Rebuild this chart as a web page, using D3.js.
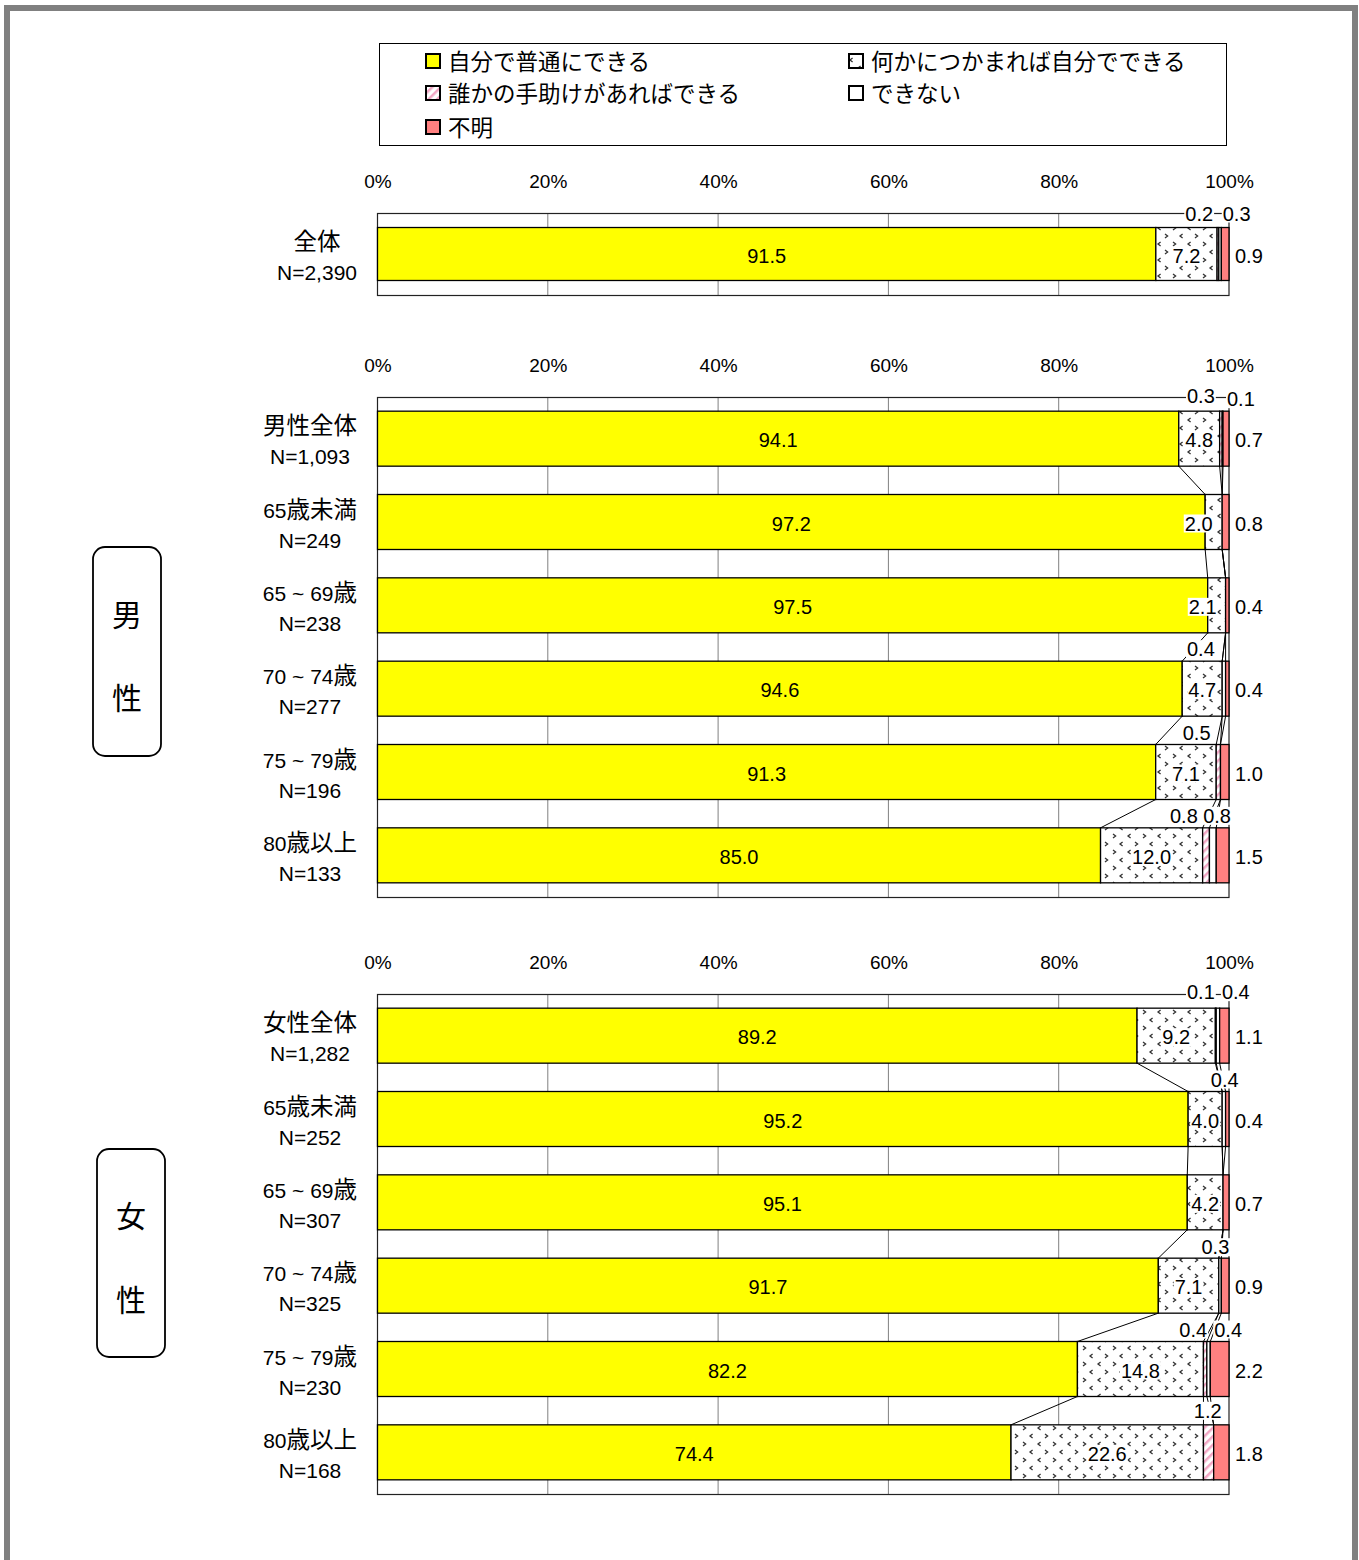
<!DOCTYPE html>
<html><head><meta charset="utf-8">
<script src="https://cdn.jsdelivr.net/npm/d3@7"></script>
<style>
body{margin:0;background:#fff}
text{font-family:'Liberation Sans',Arial,'Noto Sans CJK JP',sans-serif;fill:#000}
</style>
</head><body><svg id="c" width="1359" height="1560"></svg>
<script>
// ---------- data ----------
const seriesNames = ["自分で普通にできる","何かにつかまれば自分でできる","誰かの手助けがあればできる","できない","不明"];
const tickValues = [0,20,40,60,80,100];
const tickLabels = ["0%","20%","40%","60%","80%","100%"];

const catsAll    = [["全体","N=2,390"]];
const selfAll    = [91.5];
const holdAll    = [7.2];
const helpAll    = [0.2];
const cannotAll  = [0.3];
const unknownAll = [0.9];

const catsMale    = [["男性全体","N=1,093"],["65歳未満","N=249"],["65 ~ 69歳","N=238"],["70 ~ 74歳","N=277"],["75 ~ 79歳","N=196"],["80歳以上","N=133"]];
const selfMale    = [94.1,97.2,97.5,94.6,91.3,85.0];
const holdMale    = [4.8,2.0,2.1,4.7,7.1,12.0];
const helpMale    = [0.3,0,0,0,0.5,0.8];
const cannotMale  = [0.1,0,0,0.4,0,0.8];
const unknownMale = [0.7,0.8,0.4,0.4,1.0,1.5];

const catsFemale    = [["女性全体","N=1,282"],["65歳未満","N=252"],["65 ~ 69歳","N=307"],["70 ~ 74歳","N=325"],["75 ~ 79歳","N=230"],["80歳以上","N=168"]];
const selfFemale    = [89.2,95.2,95.1,91.7,82.2,74.4];
const holdFemale    = [9.2,4.0,4.2,7.1,14.8,22.6];
const helpFemale    = [0.1,0,0,0,0.4,1.2];
const cannotFemale  = [0.4,0.4,0,0.3,0.4,0];
const unknownFemale = [1.1,0.4,0.7,0.9,2.2,1.8];

const groupLabels = [["男","性"],["女","性"]];

// ---------- layout / style config ----------
const fills = ["#FFFF00","url(#pHold)","url(#pHelp)","#FFFFFF","#FF8080"];
const sections = [
  {cats:catsAll, vals:[selfAll,holdAll,helpAll,cannotAll,unknownAll], top:213, bottom:295, pad:0.354,
   small:[{i:0,s:2,x:96.5,dy:-14},{i:0,s:3,x:100.9,dy:-14}], holdShift:{}},
  {cats:catsMale, vals:[selfMale,holdMale,helpMale,cannotMale,unknownMale], top:397, bottom:897, pad:0.34,
   small:[{i:0,s:2,x:96.7,dy:-15},{i:0,s:3,x:101.4,dy:-12},{i:3,s:3,x:96.7,dy:-12},{i:4,s:2,x:96.2,dy:-12},{i:5,s:2,x:94.7,dy:-12},{i:5,s:3,x:98.6,dy:-12}],
   holdShift:{1:-15,2:-14}},
  {cats:catsFemale, vals:[selfFemale,holdFemale,helpFemale,cannotFemale,unknownFemale], top:994, bottom:1494, pad:0.34,
   small:[{i:0,s:2,x:96.7,dy:-16},{i:0,s:3,x:100.8,dy:-16},{i:1,s:3,x:99.5,dy:-12},{i:3,s:3,x:98.4,dy:-11},{i:4,s:2,x:95.8,dy:-12},{i:4,s:3,x:99.9,dy:-12},{i:5,s:2,x:97.5,dy:-14}],
   holdShift:{}}
];

const svg = d3.select("#c");
const x = d3.scaleLinear().domain([0,100]).range([377.5,1229]);
const fmt = d3.format(".1f");
const cjkRe = /([\u3000-\u9fff\uff00-\uffef]+)/;

// write a string into a text element, enlarging CJK runs
function mixed(t, str, latinSize, cjkSize){
  t.attr("font-size", latinSize);
  str.split(cjkRe).filter(s=>s.length).forEach(part=>{
    const sp = t.append("tspan").text(part);
    if(cjkRe.test(part)) sp.attr("font-size", cjkSize);
  });
  return t;
}

// patterns
const defs = svg.append("defs");
const ph = defs.append("pattern").attr("id","pHold").attr("patternUnits","userSpaceOnUse").attr("width",30).attr("height",16);
ph.append("rect").attr("width",30).attr("height",16).attr("fill","#fff");
const gt = (a,b)=>`M${a},${b} l2.6,2 l-2.6,2`;
const lt = (a,b)=>`M${a+2.6},${b} l-2.6,2 l2.6,2`;
ph.append("path").attr("d", gt(3,2)+lt(18,2)+lt(10,10)+gt(25,10)).attr("stroke","#333").attr("stroke-width",1.3).attr("fill","none");
const pp = defs.append("pattern").attr("id","pHelp").attr("patternUnits","userSpaceOnUse").attr("width",6).attr("height",6).attr("patternTransform","rotate(45)");
pp.append("rect").attr("width",6).attr("height",6).attr("fill","#fff");
pp.append("rect").attr("width",2.5).attr("height",6).attr("fill","#F2A6C4");

// outer frame
svg.append("rect").attr("x",7).attr("y",8).attr("width",1348).attr("height",1600)
  .attr("fill","none").attr("stroke","#808080").attr("stroke-width",6);

// legend
const lg = svg.append("g");
lg.append("rect").attr("x",379.5).attr("y",43.5).attr("width",847).attr("height",102).attr("fill","#fff").attr("stroke","#000");
const legPos = [[426,61],[426,93],[426,127],[849,61],[849,93]];
const legOrder = [0,2,4,1,3];
legOrder.forEach((s,k)=>{
  const [lx,ly] = legPos[k];
  lg.append("rect").attr("x",lx).attr("y",ly-7).attr("width",14).attr("height",14)
    .attr("fill",fills[s]).attr("stroke","#000").attr("stroke-width",2);
  lg.append("text").attr("x",lx+22).attr("y",ly+1).attr("dominant-baseline","central")
    .attr("font-size",22.5).text(seriesNames[s]);
});

// sections
sections.forEach((sec,si)=>{
  const g = svg.append("g");
  const catKeys = sec.cats.map(c=>c[0]+c[1]);
  const y = d3.scaleBand().domain(catKeys).range([sec.top,sec.bottom]).paddingInner(sec.pad).paddingOuter(sec.pad/2);
  // plot area + grid
  g.append("rect").attr("x",x(0)).attr("y",sec.top).attr("width",x(100)-x(0)).attr("height",sec.bottom-sec.top).attr("fill","#fff");
  g.selectAll(".grid").data(tickValues.slice(1,-1)).join("line")
    .attr("x1",d=>x(d)).attr("x2",d=>x(d)).attr("y1",sec.top).attr("y2",sec.bottom)
    .attr("stroke","#808080").attr("stroke-width",1);
  g.append("rect").attr("x",x(0)).attr("y",sec.top+0.5).attr("width",x(100)-x(0)).attr("height",sec.bottom-sec.top)
    .attr("fill","none").attr("stroke","#222").attr("stroke-width",1.2);
  // axis
  const ax = g.append("g").attr("transform",`translate(0,${sec.top})`)
    .call(d3.axisTop(x).tickValues(tickValues).tickFormat((d,i)=>tickLabels[i]).tickSize(0).tickPadding(25));
  ax.select(".domain").remove();
  ax.selectAll("text").attr("font-size",19).attr("font-family","'Liberation Sans',Arial,sans-serif").attr("fill","#000");

  // rows
  const rows = sec.cats.map((c,i)=>{
    const v = sec.vals.map(a=>a[i]);
    const tot = d3.sum(v);
    let cum = 0; const segs=[];
    v.forEach((val,s)=>{ const a=cum/tot*100; cum+=val; segs.push({s,val,a,b:cum/tot*100}); });
    return {key:catKeys[i], c, segs, i};
  });
  const bw = y.bandwidth();
  rows.forEach(r=>{
    const y0 = y(r.key);
    r.segs.forEach(sg=>{
      if(sg.val<=0) return;
      g.append("rect").attr("x",x(sg.a)).attr("y",y0).attr("width",x(sg.b)-x(sg.a)).attr("height",bw)
        .attr("fill",fills[sg.s]).attr("stroke","#000").attr("stroke-width",1.3);
    });
  });
  // series lines
  for(let i=0;i<rows.length-1;i++){
    for(let k=0;k<4;k++){
      g.append("line").attr("x1",x(rows[i].segs[k].b)).attr("y1",y(rows[i].key)+bw)
        .attr("x2",x(rows[i+1].segs[k].b)).attr("y2",y(rows[i+1].key))
        .attr("stroke","#000").attr("stroke-width",1);
    }
  }
  // labels
  const addLabel = (tx,ty,txt,bg,anchor)=>{
    const t = g.append("text").attr("x",tx).attr("y",ty).attr("text-anchor",anchor||"middle")
      .attr("dominant-baseline","central").attr("font-size",20).text(txt);
    if(bg){
      const bb = t.node().getBBox();
      g.insert("rect",()=>t.node()).attr("x",bb.x-1).attr("y",bb.y+2).attr("width",bb.width+2).attr("height",bb.height-4).attr("fill","#fff");
    }
  };
  rows.forEach(r=>{
    const cy = y(r.key)+bw/2+1.5;
    const s0 = r.segs[0], s1 = r.segs[1], s4 = r.segs[4];
    addLabel((x(s0.a)+x(s0.b))/2, cy, fmt(s0.val), false);
    if(s1.val>0) addLabel((x(s1.a)+x(s1.b))/2 + (sec.holdShift[r.i]||0), cy, fmt(s1.val), true);
    if(s4.val>0) addLabel(x(100)+6, cy, fmt(s4.val), false, "start");
    // category labels
    const tg = svg.append("g");
    const t1 = mixed(tg.append("text").attr("dominant-baseline","central").attr("text-anchor","middle").attr("y",cy-14), r.c[0], 21, 23.5);
    const t2 = mixed(tg.append("text").attr("dominant-baseline","central").attr("text-anchor","middle").attr("y",cy+16), r.c[1], 21, 23.5);
    const w = Math.max(t1.node().getComputedTextLength(), t2.node().getComputedTextLength());
    t1.attr("x",357-w/2); t2.attr("x",357-w/2);
  });
  sec.small.forEach(sm=>{
    const r = rows[sm.i];
    addLabel(x(sm.x), y(r.key)+sm.dy, fmt(r.segs[sm.s].val), true);
  });
});

// group boxes
const boxes = [{x:93,y:547,w:68,h:209,chars:groupLabels[0],cy:[615,698]},{x:97,y:1149,w:68,h:208,chars:groupLabels[1],cy:[1216,1300]}];
boxes.forEach(b=>{
  svg.append("rect").attr("x",b.x).attr("y",b.y).attr("width",b.w).attr("height",b.h).attr("rx",12)
    .attr("fill","#fff").attr("stroke","#000").attr("stroke-width",1.8);
  b.chars.forEach((ch,k)=>svg.append("text").attr("x",b.x+b.w/2).attr("y",b.cy[k]).attr("text-anchor","middle")
    .attr("dominant-baseline","central").attr("font-size",30).text(ch));
});
</script></body></html>
